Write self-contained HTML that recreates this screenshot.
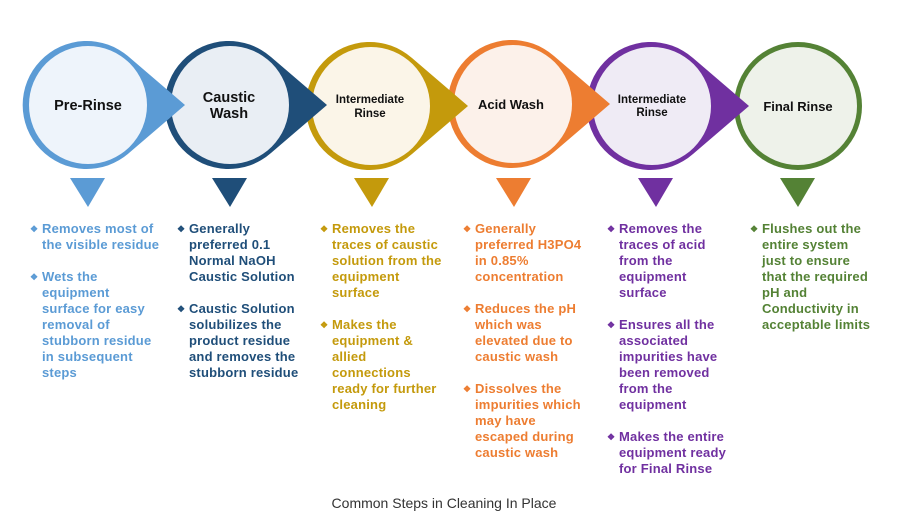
<!DOCTYPE html>
<html><head><meta charset="utf-8"><style>
html,body{margin:0;padding:0;background:#fff;}
body{width:903px;height:531px;overflow:hidden;position:relative;font-family:"Liberation Sans",Arial,sans-serif;}
.col{position:absolute;top:221px;font-weight:bold;font-size:13px;line-height:16px;white-space:nowrap;letter-spacing:0.2px;}
.col p{margin:0 0 16px 0;padding-left:12px;text-indent:-12px;}
.col p::before{content:"\2756";font-size:9px;display:inline-block;width:12px;text-indent:0;vertical-align:1px;}
.cap{position:absolute;top:495px;left:0;width:888px;text-align:center;font-size:14px;color:#333;}
</style></head><body>
<svg width="903" height="531" style="position:absolute;left:0;top:0">
<g font-family="Liberation Sans,Arial,sans-serif" font-weight="bold" fill="#111" text-anchor="middle">
<circle cx="798" cy="106" r="64" fill="#548235"/>
<circle cx="798" cy="106" r="59" fill="#eef2ea"/>
<text x="798" y="111" font-size="13">Final Rinse</text>
<path d="M749,106 L693,58 A64,64 0 1 0 693,154 Z" fill="#7030a0"/>
<circle cx="652" cy="106" r="59" fill="#efebf5"/>
<text x="652" y="103" font-size="11.5">Intermediate</text><text x="652" y="116" font-size="11.5">Rinse</text>
<path d="M610,104 L554,56 A64,64 0 1 0 554,152 Z" fill="#ed7d31"/>
<circle cx="513" cy="104" r="59" fill="#fcf1ea"/>
<text x="511" y="109" font-size="13">Acid Wash</text>
<path d="M468,106 L412,58 A64,64 0 1 0 412,154 Z" fill="#c49a0c"/>
<circle cx="371" cy="106" r="59" fill="#fbf5e8"/>
<text x="370" y="103" font-size="11.5">Intermediate</text><text x="370" y="117" font-size="11.5">Rinse</text>
<path d="M327,105 L271,57 A64,64 0 1 0 271,153 Z" fill="#1f4e79"/>
<circle cx="230" cy="105" r="59" fill="#e9eef4"/>
<text x="229" y="102" font-size="14.5">Caustic</text><text x="229" y="118" font-size="14.5">Wash</text>
<path d="M185,105 L129,57 A64,64 0 1 0 129,153 Z" fill="#5b9bd5"/>
<circle cx="88" cy="105" r="59" fill="#eef4fb"/>
<text x="88" y="110" font-size="14.5">Pre-Rinse</text>
</g>
<polygon points="70,178 105,178 88,207" fill="#5b9bd5"/>
<polygon points="212,178 247,178 230,207" fill="#1f4e79"/>
<polygon points="354,178 389,178 372,207" fill="#c49a0c"/>
<polygon points="496,178 531,178 514,207" fill="#ed7d31"/>
<polygon points="638,178 673,178 656,207" fill="#7030a0"/>
<polygon points="780,178 815,178 798,207" fill="#548235"/>
</svg>
<div class="col" style="left:30px;color:#5b9bd5"><p>Removes most of<br>the visible residue</p><p>Wets the<br>equipment<br>surface for easy<br>removal of<br>stubborn residue<br>in subsequent<br>steps</p></div>
<div class="col" style="left:177px;color:#1f4e79"><p>Generally<br>preferred 0.1<br>Normal NaOH<br>Caustic Solution</p><p>Caustic Solution<br>solubilizes the<br>product residue<br>and removes the<br>stubborn residue</p></div>
<div class="col" style="left:320px;color:#c49a0c"><p>Removes the<br>traces of caustic<br>solution from the<br>equipment<br>surface</p><p>Makes the<br>equipment &amp;<br>allied<br>connections<br>ready for further<br>cleaning</p></div>
<div class="col" style="left:463px;color:#ed7d31"><p>Generally<br>preferred H3PO4<br>in 0.85%<br>concentration</p><p>Reduces the pH<br>which was<br>elevated due to<br>caustic wash</p><p>Dissolves the<br>impurities which<br>may have<br>escaped during<br>caustic wash</p></div>
<div class="col" style="left:607px;color:#7030a0"><p>Removes the<br>traces of acid<br>from the<br>equipment<br>surface</p><p>Ensures all the<br>associated<br>impurities have<br>been removed<br>from the<br>equipment</p><p>Makes the entire<br>equipment ready<br>for Final Rinse</p></div>
<div class="col" style="left:750px;color:#548235"><p>Flushes out the<br>entire system<br>just to ensure<br>that the required<br>pH and<br>Conductivity in<br>acceptable limits</p></div>
<div class="cap">Common Steps in Cleaning In Place</div>
</body></html>
